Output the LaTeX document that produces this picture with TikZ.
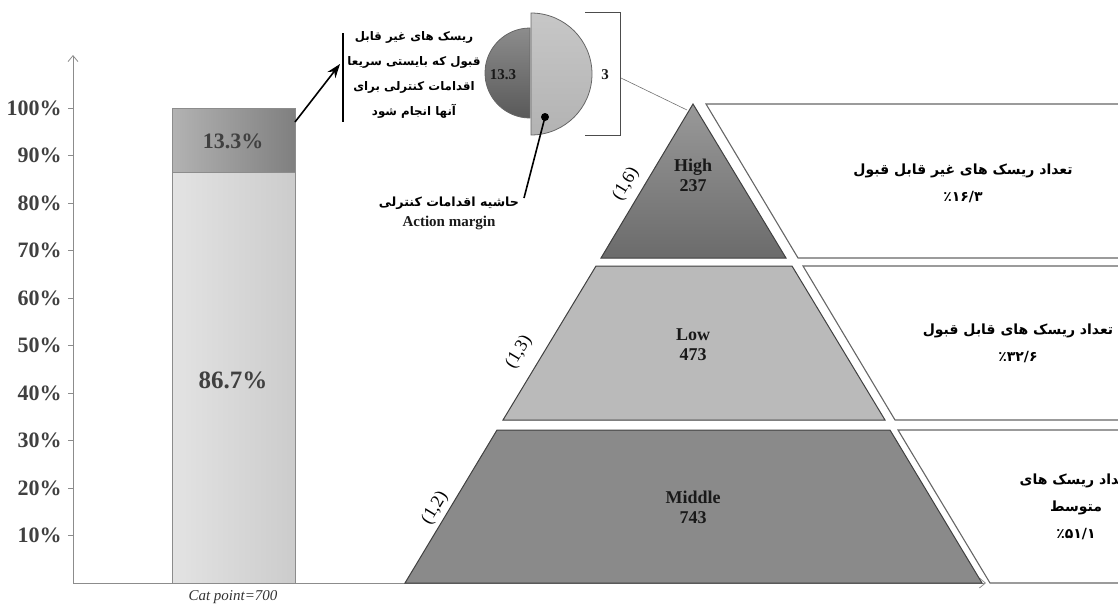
\documentclass[tikz,border=0pt]{standalone}
\usepackage{fontspec}
\setmainfont{Liberation Serif}
\newfontfamily\farsifont[Script=Arabic]{DejaVu Sans}
\TeXXeTstate=1
\usetikzlibrary{arrows.meta}

\newcommand{\rtlline}[1]{\beginR #1\endR}

\begin{document}
\begin{tikzpicture}[x=0.5pt, y=-0.5pt,
    axisline/.style={draw=black!45, line width=0.4pt},
    axislbl/.style={font=\fontsize{11}{12}\selectfont\bfseries, text=black!75, anchor=east, inner sep=0pt},
    barlbl/.style={font=\fontsize{11}{12}\selectfont\bfseries, text=black!75},
    seg/.style={draw=black!75, line width=0.5pt},
    panel/.style={draw=black!60, fill=white, line width=0.55pt},
    farsi/.style={font=\fontsize{7}{13.5}\selectfont\farsifont\bfseries, align=center, inner sep=0pt},
    lvl/.style={font=\fontsize{9}{10}\selectfont\bfseries, align=center, text=black!90, inner sep=0pt},
    side/.style={font=\fontsize{9}{10}\selectfont, rotate=59, inner sep=0pt},
    pointer/.style={draw=black, line width=0.8pt}]
  \useasboundingbox (0,0) rectangle (1118,606);

  % axes
  \coordinate (origin) at (73,583);
  \coordinate (ytop) at (73,55);
  \coordinate (xend) at (986,583);
  \draw[axisline, -{Straight Barb[length=3pt, width=5pt]}] (origin) -- (ytop);
  \draw[axisline, -{Straight Barb[length=3pt, width=5pt]}] (origin) -- (xend);
  \foreach \p in {1,...,10} {
      \draw[axisline] (68,583-47.5*\p) -- (73,583-47.5*\p);
      \node[axislbl] (tick\p) at (62,583-47.5*\p) {\the\numexpr\p*10\relax\%};
  }

  % stacked bar
  \shade[left color=black!11, right color=black!20] (172,583) rectangle (295,172);
  \shade[left color=black!30, right color=black!50] (172,172) rectangle (295,108);
  \draw[axisline] (172,583) rectangle (295,108);
  \draw[axisline] (172,172) -- (295,172);
  \node[barlbl] (pcthigh) at (233,141) {13.3\%};
  \node[barlbl, font=\fontsize{12.5}{13}\selectfont\bfseries] (pctlow) at (233,380) {86.7\%};
  \node[font=\fontsize{7.5}{8}\selectfont\itshape, text=black!80] (catpt) at (233,597) {Cat point=700};

  % note on the unacceptable share
  \coordinate (barcorner) at (295,122);
  \coordinate (notebar) at (340,64);
  \draw[pointer, -{Stealth[length=7pt, width=5pt]}] (barcorner) -- (notebar);
  \draw[black, line width=0.9pt] (343,33) -- (343,122);
  \node[farsi, font=\fontsize{5.9}{12.5}\selectfont\farsifont\bfseries] (note) at (414,75)
      {\rtlline{ریسک های غیر قابل}\\\rtlline{قبول که بایستی سریعا}\\
       \rtlline{اقدامات کنترلی برای}\\\rtlline{آنها انجام شود}};

  % half discs
  \shade[top color=black!45, bottom color=black!65, draw=black!60] (530,28) arc (270:90:45) -- cycle;
  \shade[top color=black!22, bottom color=black!30, draw=black!60] (531,13) arc (270:450:61) -- cycle;
  \node[lvl, font=\fontsize{7.5}{8}\selectfont\bfseries] (disc) at (503,75) {13.3};
  \coordinate (dot) at (545,117);
  \fill (dot) circle (4);
  \coordinate (margintip) at (524,198);
  \draw[pointer] (dot) -- (margintip);
  \node[farsi, font=\fontsize{6.3}{8}\selectfont\farsifont\bfseries] (margin) at (449,203) {\rtlline{حاشیه اقدامات کنترلی}};
  \node[lvl, font=\fontsize{7.5}{8}\selectfont\bfseries] (marginen) at (449,223) {Action margin};

  % bracket
  \draw[black!70, line width=0.5pt] (585,12) -- (620,12) -- (620,135) -- (585,135);
  \node[lvl, font=\fontsize{7.5}{8}\selectfont\bfseries] (three) at (605,75) {3};
  \coordinate (bracketmid) at (621,78);
  \coordinate (apexlink) at (687,110);
  \draw[black!55, line width=0.3pt] (bracketmid) -- (apexlink);

  % pyramid
  \shade[top color=black!40, bottom color=black!58] (693,104) -- (786,258) -- (601,258) -- cycle;
  \draw[seg] (693,104) -- (786,258) -- (601,258) -- cycle;
  \draw[seg, fill=black!27] (596,266) -- (792,266) -- (885,420) -- (503,420) -- cycle;
  \draw[seg, fill=black!46] (497,430) -- (890,430) -- (982,583) -- (405,583) -- cycle;
  \node[lvl] (high) at (693,175) {High\\237};
  \node[lvl] (low) at (693,345) {Low\\473};
  \node[lvl] (middle) at (693,507) {Middle\\743};
  \node[side] (sidehigh) at (626,184) {(1,6)};
  \node[side] (sidelow) at (519,352) {(1,3)};
  \node[side] (sidemid) at (435,508) {(1,2)};

  % panels
  \draw[panel] (1125,104) -- (706,104) -- (798,258) -- (1125,258);
  \draw[panel] (1125,266) -- (803,266) -- (895,420) -- (1125,420);
  \draw[panel] (1125,430) -- (898,430) -- (990,583) -- (1125,583);
  \node[farsi] (counthigh) at (963,183) {\rtlline{تعداد ریسک های غیر قابل قبول}\\٪۱۶/۳};
  \node[farsi] (countlow) at (1018,343) {\rtlline{تعداد ریسک های قابل قبول}\\٪۳۲/۶};
  \node[farsi] (countmid) at (1076,507) {\rtlline{تعداد ریسک های}\\\rtlline{متوسط}\\٪۵۱/۱};
\end{tikzpicture}
\end{document}
